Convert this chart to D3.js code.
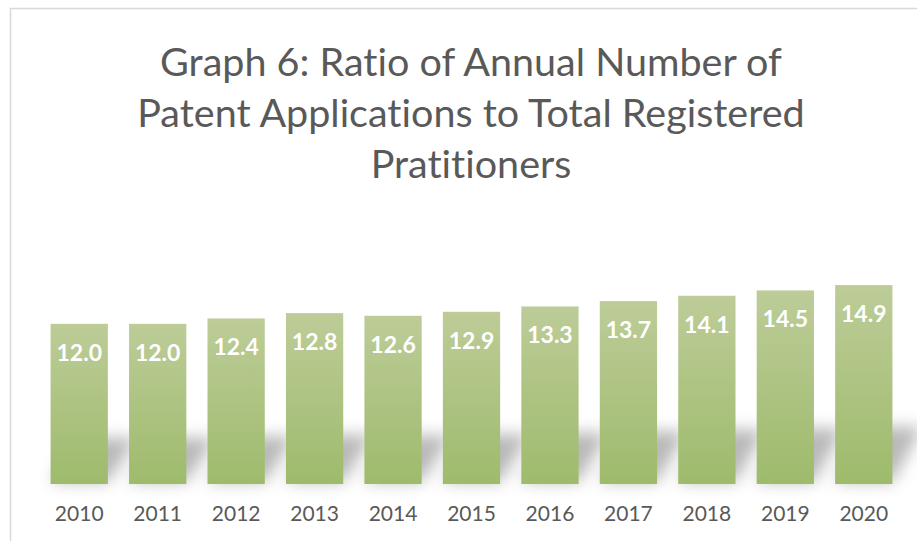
<!DOCTYPE html>
<html>
<head>
<meta charset="utf-8">
<script src="https://cdn.jsdelivr.net/npm/d3@7"></script>
<style>
  body { margin: 0; background: #fff; }
  svg { display: block; }
  text { font-variant-ligatures: none; }
</style>
</head>
<body>
<div id="chart"></div>
<script>
// values
const years = ['2010', '2011', '2012', '2013', '2014', '2015', '2016', '2017', '2018', '2019', '2020']
const ratios = [12.0, 12.0, 12.4, 12.8, 12.6, 12.9, 13.3, 13.7, 14.1, 14.5, 14.9]
const titleLines = ['Graph 6: Ratio of Annual Number of', 'Patent Applications to Total Registered', 'Pratitioners']

const W = 917, H = 541

const svg = d3.select('#chart').append('svg')
	.attr('width', W)
	.attr('height', H)

const defs = svg.append('defs')

const grad = defs.append('linearGradient')
	.attr('id', 'barFill')
	.attr('x1', 0).attr('y1', 0).attr('x2', 0).attr('y2', 1)
grad.append('stop').attr('offset', '0%').attr('stop-color', '#bdcc98')
grad.append('stop').attr('offset', '100%').attr('stop-color', '#9ebb6c')

const blur = defs.append('filter')
	.attr('id', 'shadowBlur')
	.attr('x', '-50%').attr('y', '-50%').attr('width', '200%').attr('height', '200%')
blur.append('feGaussianBlur').attr('stdDeviation', 8)

// chart frame (right & bottom edges fall outside the crop)
svg.append('rect')
	.attr('x', 10.5).attr('y', 8.5)
	.attr('width', W + 20).attr('height', H + 20)
	.attr('fill', 'none')
	.attr('stroke', '#d9d9d9')
	.attr('stroke-width', 1.5)

// title
svg.append('g').selectAll('text')
	.data(titleLines)
	.join('text')
	.attr('x', 471)
	.attr('y', (d, i) => 76 + i * 51)
	.attr('text-anchor', 'middle')
	.attr('font-family', 'Lato, sans-serif')
	.attr('font-size', 39.5)
	.attr('fill', '#595959')
	.text(d => d)

const x = d3.scaleBand()
	.domain(years)
	.range([40, 903])
	.paddingInner(0.27)
	.paddingOuter(0.135)

const y = d3.scaleLinear()
	.domain([0, 20])
	.range([484, 217])

const data = years.map((yr, i) => ({ year: yr, value: ratios[i] }))

// perspective shadow behind the bars
svg.append('g')
	.attr('filter', 'url(#shadowBlur)')
	.selectAll('path')
	.data(data)
	.join('path')
	.attr('d', d => {
		const x0 = x(d.year), x1 = x0 + x.bandwidth()
		const base = y(0) - 2
		const h = (base - y(d.value)) * 0.28
		const dx = 30
		return `M${x0},${base}L${x1},${base}L${x1 + dx},${base - h}L${x0 + dx},${base - h}Z`
	})
	.attr('fill', '#000')
	.attr('fill-opacity', 0.28)

// bars
svg.append('g').selectAll('rect')
	.data(data)
	.join('rect')
	.attr('x', d => x(d.year))
	.attr('y', d => y(d.value))
	.attr('width', x.bandwidth())
	.attr('height', d => y(0) - y(d.value))
	.attr('fill', 'url(#barFill)')

// value labels
svg.append('g').selectAll('text')
	.data(data)
	.join('text')
	.attr('x', d => x(d.year) + x.bandwidth() / 2)
	.attr('y', d => y(d.value) + 37)
	.attr('text-anchor', 'middle')
	.attr('font-family', 'Lato, sans-serif')
	.attr('font-weight', 'bold')
	.attr('font-size', 23)
	.attr('fill', '#fff')
	.text(d => d3.format('.1f')(d.value))

// category axis
const xAxis = svg.append('g')
	.attr('transform', `translate(0,${y(0)})`)
	.call(d3.axisBottom(x).tickSize(0).tickPadding(22))
xAxis.select('.domain').remove()
xAxis.selectAll('text')
	.attr('font-family', 'Lato, sans-serif')
	.attr('font-size', 21)
	.attr('fill', '#595959')
</script>
</body>
</html>
